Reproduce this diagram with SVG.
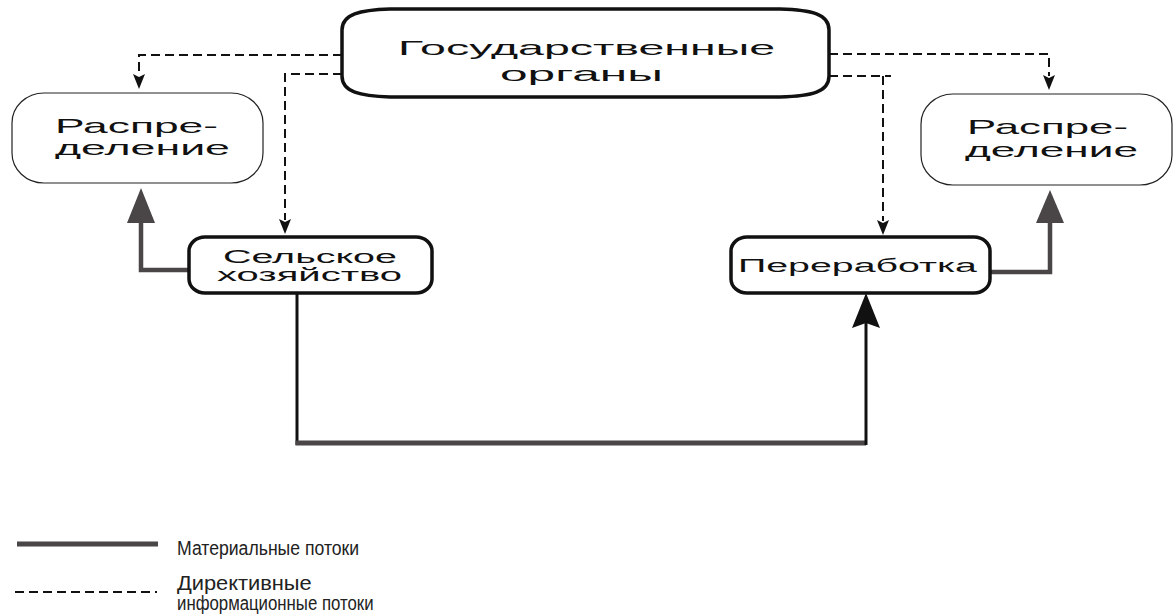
<svg xmlns="http://www.w3.org/2000/svg" width="1173" height="614" viewBox="0 0 1173 614">
<defs>
<style>
.t{font-family:"Liberation Sans",Arial,sans-serif;fill:#111;}
.big{font-size:21px;}
.mid{font-size:18px;}
.leg{font-size:21px;fill:#222;}
.thin{fill:#fff;stroke:#222;stroke-width:1.2;}
.thick{fill:#fff;stroke:#111;stroke-width:3.5;}
.dash{fill:none;stroke:#111;stroke-width:2;stroke-dasharray:9 5;}
.mat{fill:none;stroke:#4a4546;stroke-width:4.5;}
.blk{fill:none;stroke:#111;stroke-width:3;}
</style>
</defs>
<rect width="1173" height="614" fill="#fff"/>

<g id="connectors">
<path class="dash" d="M342,55 H139 V76"/>
<path d="M133,74 L139,89 L145,74 L139,77 Z" fill="#111"/>
<path class="dash" d="M342,74 H285 V220"/>
<path d="M279,219 L285,234 L291,219 L285,222 Z" fill="#111"/>
<path class="dash" d="M829,54 H1049 V76"/>
<path d="M1043,75 L1049,90 L1055,75 L1049,78 Z" fill="#111"/>
<path class="dash" d="M829,76 H891 M883,76 V221"/>
<path d="M877,220 L883,235 L889,220 L883,223 Z" fill="#111"/>
<path class="mat" d="M189,270 H141 V220"/>
<path d="M127,223 L141,188 L155,223 Z" fill="#4a4546"/>
<path class="mat" d="M990,272 H1050 V220"/>
<path d="M1036,223 L1050,190 L1064,223 Z" fill="#4a4546"/>
<path class="blk" d="M297,293 V445"/>
<path d="M295.5,443 H866" stroke="#4a4546" stroke-width="5" fill="none"/>
<path class="blk" d="M866,445 V318"/>
<path d="M852,328 L866,293 L880,328 L866,323 Z" fill="#111"/>
</g>

<g id="node-gov">
<path class="thick" d="M342,30 C342,14 360,10 390,9 L780,9 C812,10 829,14 829,30 L829,76 C829,92 812,96 780,97 L390,97 C360,96 342,92 342,76 Z"/>
<text class="t big" x="398" y="55" textLength="377" lengthAdjust="spacingAndGlyphs">Государственные</text>
<text class="t big" x="500" y="81" textLength="163" lengthAdjust="spacingAndGlyphs">органы</text>
</g>

<g id="node-dist-left">
<rect class="thin" x="12" y="93" width="251" height="90" rx="32" ry="30"/>
<text class="t big" x="55" y="133" textLength="163" lengthAdjust="spacingAndGlyphs">Распре-</text>
<text class="t big" x="55" y="155" textLength="175" lengthAdjust="spacingAndGlyphs">деление</text>
</g>

<g id="node-dist-right">
<rect class="thin" x="921" y="94" width="251" height="91" rx="32" ry="30"/>
<text class="t big" x="967" y="134" textLength="161" lengthAdjust="spacingAndGlyphs">Распре-</text>
<text class="t big" x="965" y="157" textLength="173" lengthAdjust="spacingAndGlyphs">деление</text>
</g>

<g id="node-agri">
<rect class="thick" x="189" y="237" width="243" height="56" rx="16" ry="14"/>
<text class="t mid" x="223" y="263" textLength="174" lengthAdjust="spacingAndGlyphs">Сельское</text>
<text class="t mid" x="217" y="281" textLength="185" lengthAdjust="spacingAndGlyphs">хозяйство</text>
</g>

<g id="node-proc">
<rect class="thick" x="731" y="237" width="259" height="56" rx="16" ry="14"/>
<text class="t mid" x="738" y="272" textLength="239" lengthAdjust="spacingAndGlyphs">Переработка</text>
</g>

<g id="legend">
<path d="M17,544 H158" stroke="#4a4546" stroke-width="5" fill="none"/>
<text class="t leg" transform="translate(177,555) scale(0.84,1)">Материальные потоки</text>
<path d="M15,592 H157" stroke="#111" stroke-width="2" stroke-dasharray="9 5" fill="none"/>
<text class="t leg" transform="translate(177,590) scale(1.04,1)">Директивные</text>
<text class="t leg" transform="translate(177,610) scale(0.8,1)">информационные потоки</text>
</g>
</svg>
